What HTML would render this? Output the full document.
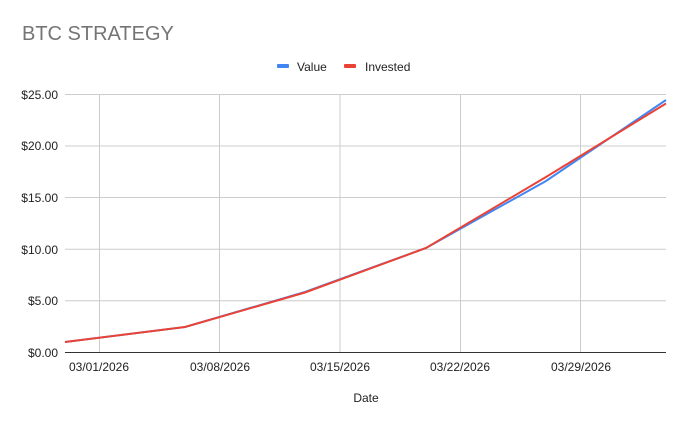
<!DOCTYPE html>
<html><head><meta charset="utf-8"><style>
body{margin:0;background:#fff;font-family:"Liberation Sans",Arial,sans-serif}
svg{display:block}
</style></head><body>
<svg width="688" height="426" xmlns="http://www.w3.org/2000/svg" font-family="Liberation Sans, Arial, sans-serif">
<rect width="688" height="426" fill="#fff"/>
<text x="22" y="40" font-size="20" fill="#757575">BTC STRATEGY</text>
<rect x="277" y="64" width="12" height="4" rx="1" fill="#4285f4"/>
<text x="297" y="71" font-size="12" fill="#222">Value</text>
<rect x="344" y="64" width="12" height="4" rx="1" fill="#ea4335"/>
<text x="365" y="71" font-size="12" fill="#222">Invested</text>
<g stroke="#cccccc" stroke-width="1">
<line x1="65" x2="666" y1="94.5" y2="94.5"/>
<line x1="65" x2="666" y1="146" y2="146"/>
<line x1="65" x2="666" y1="197.5" y2="197.5"/>
<line x1="65" x2="666" y1="249.3" y2="249.3"/>
<line x1="65" x2="666" y1="300.8" y2="300.8"/>
<line x1="99.5" x2="99.5" y1="94" y2="352"/>
<line x1="219.5" x2="219.5" y1="94" y2="352"/>
<line x1="340" x2="340" y1="94" y2="352"/>
<line x1="460.5" x2="460.5" y1="94" y2="352"/>
<line x1="580.5" x2="580.5" y1="94" y2="352"/>
</g>
<line x1="65" x2="666" y1="352.5" y2="352.5" stroke="#333" stroke-width="1"/>
<g font-size="12" fill="#222" text-anchor="end">
<text x="58" y="99">$25.00</text>
<text x="58" y="150">$20.00</text>
<text x="58" y="202">$15.00</text>
<text x="58" y="254">$10.00</text>
<text x="58" y="305">$5.00</text>
<text x="58" y="357">$0.00</text>
</g>
<g font-size="12" fill="#222" text-anchor="middle">
<text x="99" y="371">03/01/2026</text>
<text x="220" y="371">03/08/2026</text>
<text x="340" y="371">03/15/2026</text>
<text x="460" y="371">03/22/2026</text>
<text x="581" y="371">03/29/2026</text>
<text x="366" y="402">Date</text>
</g>
<polyline fill="none" stroke="#4285f4" stroke-width="2" points="65,342 185,327 305,292 426,248 546,181 666,100"/>
<polyline fill="none" stroke="#ea4335" stroke-width="2" points="65,342 185,327 305,292.5 426,248 546,177 666,103.5"/>
</svg>
</body></html>
